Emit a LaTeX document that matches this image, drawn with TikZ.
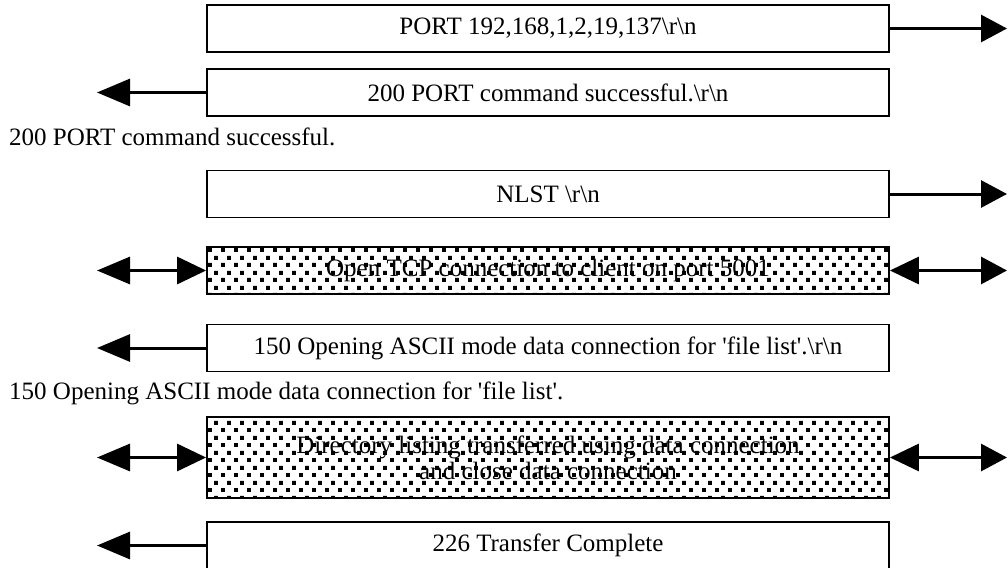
\documentclass[tikz,border=0pt]{standalone}
\usepackage{fontspec}
\setmainfont{Liberation Serif}
\usetikzlibrary{arrows.meta,patterns}
\pgfdeclarepatternformonly{ftpdots}{\pgfqpoint{0pt}{0pt}}{\pgfqpoint{13pt}{15pt}}{\pgfqpoint{13pt}{15pt}}{%
  \pgfpathrectangle{\pgfqpoint{0pt}{0pt}}{\pgfqpoint{4.2pt}{4.2pt}}%
  \pgfpathrectangle{\pgfqpoint{6.5pt}{7.5pt}}{\pgfqpoint{4.2pt}{4.2pt}}%
  \pgfusepath{fill}}
\tikzset{
  msgbox/.style={draw, line width=1.8pt, rectangle, minimum width=682pt, minimum height=47pt, inner sep=0pt, font=\fontsize{25}{24}\selectfont, align=center},
  databox/.style={msgbox, pattern=ftpdots, pattern color=black},
  plain/.style={anchor=base west, inner sep=0pt, font=\fontsize{25}{24}\selectfont},
  larr/.style={line width=3pt, -{Triangle[length=33pt,width=27pt]}},
  rarr/.style={line width=3pt, -{Triangle[length=26pt,width=27pt]}},
  ldbl/.style={line width=3pt, {Triangle[length=33pt,width=27pt]}-{Triangle[length=29pt,width=27pt]}},
  rdbl/.style={line width=3pt, {Triangle[length=29pt,width=27pt]}-{Triangle[length=26pt,width=27pt]}},
}
\begin{document}
\begin{tikzpicture}[x=1pt,y=-1pt]
\useasboundingbox (0,0) rectangle (1008,567);
% boxes
\node[msgbox] (b1) at (548,28.5) {PORT 192,168,1,2,19,137\textbackslash r\textbackslash n};
\node[msgbox] (b2) at (548,92.5) {200 PORT command successful.\textbackslash r\textbackslash n};
\node[plain] (t1) at (9,145) {200 PORT command successful.};
\node[msgbox] (b3) at (548,194) {NLST \textbackslash r\textbackslash n};
\node[databox] (b4) at (548,270.5) {Open TCP connection to client on port 5001};
\node[msgbox] (b5) at (548,348) {150 Opening ASCII mode data connection for \textquotesingle file list\textquotesingle.\textbackslash r\textbackslash n};
\node[plain] (t2) at (9,399) {150 Opening ASCII mode data connection for \textquotesingle file list\textquotesingle.};
\node[databox, minimum height=81pt, font=\fontsize{25}{26}\selectfont] (b6) at (548,457.5) {Directory listing transferred using data connection\\and close data connection};
\node[msgbox] (b7) at (548,545.5) {226 Transfer Complete};
% free ends
\coordinate (r1) at (1007,28.5);
\coordinate (l2) at (97,92.5);
\coordinate (r3) at (1007,194);
\coordinate (l4) at (97,270.5);
\coordinate (r4) at (1007,270.5);
\coordinate (l5) at (97,348);
\coordinate (l6) at (97,457.5);
\coordinate (r6) at (1007,457.5);
\coordinate (l7) at (97,545.5);
% connectors
\draw[rarr] (b1.east) -- (r1);
\draw[larr] (b2.west) -- (l2);
\draw[rarr] (b3.east) -- (r3);
\draw[ldbl] (l4) -- (b4.west);
\draw[rdbl] (b4.east) -- (r4);
\draw[larr] (b5.west) -- (l5);
\draw[ldbl] (l6) -- (b6.west);
\draw[rdbl] (b6.east) -- (r6);
\draw[larr] (b7.west) -- (l7);
\end{tikzpicture}
\end{document}
